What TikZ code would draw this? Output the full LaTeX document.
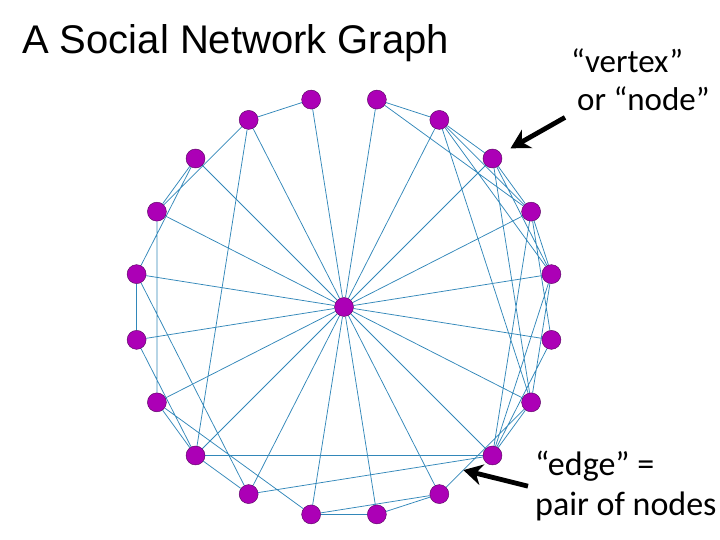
\documentclass[tikz,border=0pt]{standalone}
\usepackage{fontspec}
\setmainfont{Liberation Sans}
\newfontfamily\calloutfont{Carlito}
\usetikzlibrary{arrows.meta, positioning, backgrounds}

\definecolor{personfill}{RGB}{172,0,182}
\definecolor{personline}{RGB}{80,0,90}
\definecolor{tieblue}{RGB}{50,135,185}

\begin{document}
\begin{tikzpicture}[
    x=1pt, y=1pt,
    person/.style={
        circle, draw=personline, fill=personfill, thin,
        minimum size=19pt, inner sep=0pt
    },
    tie/.style={draw, color=tieblue, line width=0.75pt},
    callout/.style={font=\calloutfont\fontsize{33}{38}\selectfont, align=left, inner sep=0pt},
    pointer/.style={-{Stealth[length=19pt, width=21pt]}, line width=4.8pt}
]
\useasboundingbox (0,0) rectangle (720,540);

% -- title --
\node[anchor=base west, inner sep=0pt, font=\fontsize{40}{48}\selectfont] (title) at (22,486)
    {A Social Network Graph};

% -- hub in the middle --
\node[person] (hub) at (344,233) {};

% -- people around the ring --
\begin{scope}[shift={(hub.center)}]
\node[person] (u1) at (81:210) {};
\node[person] (u2) at (63:210) {};
\node[person] (u3) at (45:210) {};
\node[person] (u4) at (27:210) {};
\node[person] (u5) at (9:210) {};
\node[person] (u6) at (-9:210) {};
\node[person] (u7) at (-27:210) {};
\node[person] (u8) at (-45:210) {};
\node[person] (u9) at (-63:210) {};
\node[person] (u10) at (-81:210) {};
\node[person] (u11) at (-99:210) {};
\node[person] (u12) at (-117:210) {};
\node[person] (u13) at (-135:210) {};
\node[person] (u14) at (-153:210) {};
\node[person] (u15) at (-171:210) {};
\node[person] (u16) at (171:210) {};
\node[person] (u17) at (153:210) {};
\node[person] (u18) at (135:210) {};
\node[person] (u19) at (117:210) {};
\node[person] (u20) at (99:210) {};
\end{scope}

\begin{scope}[on background layer]
% -- spokes from the hub --
\draw[tie] (hub) edge (u1) edge (u2) edge (u3) edge (u4) edge (u5)
    edge (u6) edge (u7) edge (u8) edge (u9) edge (u10)
    edge (u11) edge (u12) edge (u13) edge (u14) edge (u15)
    edge (u16) edge (u17) edge (u18) edge (u19) edge (u20);

% -- ties on the left --
\draw[tie] (u20) -- (u19)  (u19) -- (u17)  (u19) -- (u13)  (u18) -- (u17)
    (u18) -- (u16)  (u17) -- (u14)  (u16) -- (u15)  (u16) -- (u12)
    (u15) -- (u13)  (u14) -- (u13)  (u14) -- (u11)  (u13) -- (u12)
    (u13) -- (u8)  (u12) -- (u8)  (u11) -- (u10)  (u11) -- (u9)
    (u10) -- (u9);

% -- ties on the right --
\draw[tie] (u1) -- (u2)  (u1) -- (u4)  (u2) -- (u3)  (u2) -- (u4)
    (u2) -- (u5)  (u2) -- (u7)  (u3) -- (u4)  (u3) -- (u5)
    (u3) -- (u7)  (u4) -- (u5)  (u4) -- (u6)  (u4) -- (u8)
    (u5) -- (u7)  (u5) -- (u8)  (u6) -- (u8)  (u7) -- (u8)
    (u7) -- (u9);
\end{scope}

% -- callouts --
\node[callout, anchor=north west] (vertexlbl) at (571,491)
    {“vertex”\\\hspace*{6pt}or “node”};
\node[callout, anchor=north west, font=\calloutfont\fontsize{34}{40}\selectfont] (edgelbl) at (535,89)
    {“edge” =\\pair of nodes};

\path (u9) -- (u7) coordinate[pos=0.22] (tiept);

\draw[pointer, shorten >=11pt] ([xshift=-6pt, yshift=-6pt]vertexlbl.south west) -- (u3);
\draw[pointer] ([xshift=-7pt]edgelbl.west) -- (tiept);

\end{tikzpicture}
\end{document}
